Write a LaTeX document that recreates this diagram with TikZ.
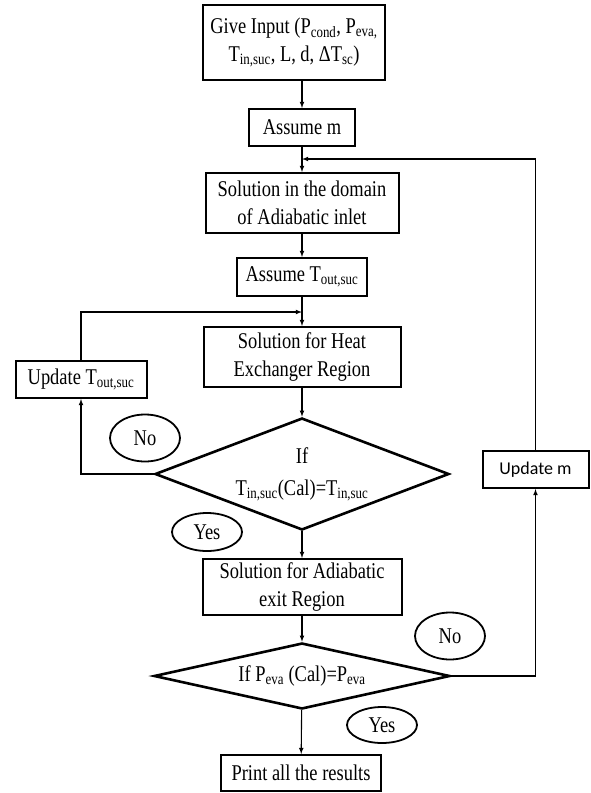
\documentclass[tikz,border=0pt]{standalone}
\usepackage{fontspec}
\setmainfont{Liberation Serif}[FakeStretch=0.82]
\newfontfamily\calfont{Carlito}
\usetikzlibrary{shapes.geometric}

\begin{document}
\begin{tikzpicture}[x=1pt,y=-1pt,>=latex,
  boxstyle/.style={draw,line width=2pt,align=center,inner sep=0pt,font=\fontsize{22.5}{28}\selectfont},
  decstyle/.style={diamond,draw,line width=2.6pt,align=center,inner sep=0pt,font=\fontsize{22.5}{32}\selectfont},
  tagstyle/.style={ellipse,draw,line width=1.8pt,inner sep=0pt,minimum width=70,font=\fontsize{22.5}{24}\selectfont},
  linkstyle/.style={->,line width=1.1pt}]
  \useasboundingbox (0,0) rectangle (590,793);

  % main column
  \node [boxstyle,minimum width=182,minimum height=75] (input) at (294,42.5)
        {Give Input (P\textsubscript{cond}, P\textsubscript{eva,}\\T\textsubscript{in,suc}, L, d, ΔT\textsubscript{sc})};
  \node [boxstyle,minimum width=106,minimum height=37] (assumem) at (302,127.5) {Assume m};
  \node [boxstyle,minimum width=193,minimum height=60] (domain) at (302,203) {Solution in the domain\\of Adiabatic inlet};
  \node [boxstyle,minimum width=130,minimum height=38] (assumeT) at (302,277) {Assume T\textsubscript{out,suc}};
  \node [boxstyle,minimum width=197,minimum height=60] (heat) at (302,357) {Solution for Heat\\Exchanger Region};
  \node [decstyle,aspect=2.6,minimum width=294,minimum height=112] (dec1) at (302,474)
        {If\\T\textsubscript{in,suc}(Cal)=T\textsubscript{in,suc}};
  \node [boxstyle,minimum width=199,minimum height=56] (exit) at (302,587) {Solution for Adiabatic\\exit Region};
  \node [decstyle,aspect=4,minimum width=296,minimum height=66] (dec2) at (302,676)
        {If P\textsubscript{eva} (Cal)=P\textsubscript{eva}};
  \node [boxstyle,minimum width=160,minimum height=36] (print) at (301,773) {Print all the results};

  % side boxes
  \node [boxstyle,minimum width=131,minimum height=37] (updT) at (81,379.5) {Update T\textsubscript{out,suc}};
  \node [boxstyle,minimum width=106,minimum height=37,font=\calfont\fontsize{18}{22}\selectfont] (updm) at (535.5,469.5) {Update m};

  % answers
  \node [tagstyle,minimum height=47] (no1) at (145,438) {No};
  \node [tagstyle,minimum height=38] (yes1) at (207,532) {Yes};
  \node [tagstyle,minimum height=47] (no2) at (450,636) {No};
  \node [tagstyle,minimum height=36] (yes2) at (382,725) {Yes};

  \coordinate (mjoin) at (302,159);
  \coordinate (tjoin) at (302,312);

  \draw [linkstyle] (input.south -| assumem.north) -- (assumem.north);
  \foreach \a/\b in {assumem/domain,domain/assumeT,assumeT/heat,heat/dec1,dec1/exit,exit/dec2,dec2/print}
    \draw [linkstyle] (\a) -- (\b);

  \draw [linkstyle] (dec1.west) -| (updT.south);
  \draw [linkstyle] (updT.north) |- (tjoin);
  \draw [linkstyle] (dec2.east) -| (updm.south);
  \draw [linkstyle] (updm.north) |- (mjoin);
\end{tikzpicture}
\end{document}
